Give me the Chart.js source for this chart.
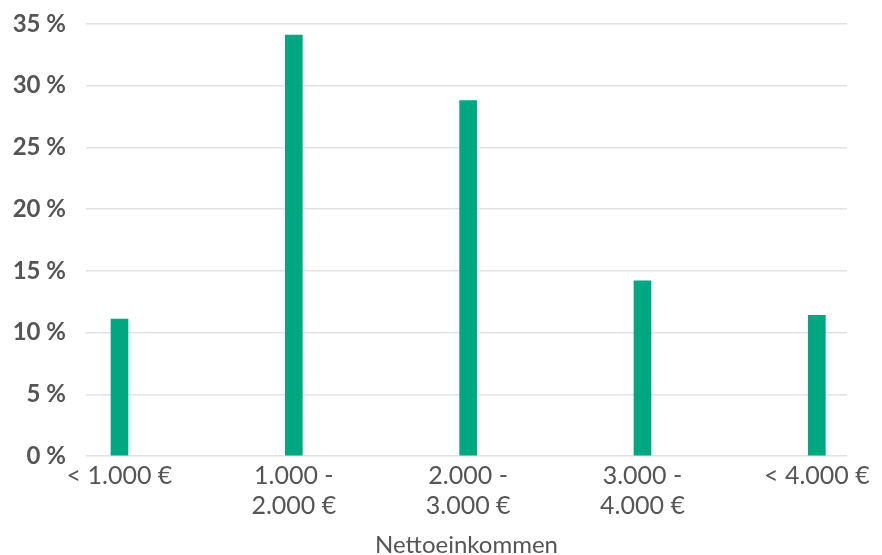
<!DOCTYPE html>
<html>
<head>
<meta charset="utf-8">
<script src="https://cdn.jsdelivr.net/npm/chart.js@4/dist/chart.umd.min.js"></script>
<style>
  html, body { margin: 0; padding: 0; background: #fff; }
  #wrap { width: 882px; height: 555px; }
</style>
</head>
<body>
<div id="wrap"><canvas id="income"></canvas></div>
<script>
// Anteil der Befragten je Einkommensgruppe
var incomeGroups = [['< 1.000 €'], ['1.000 -', '2.000 €'], ['2.000 -', '3.000 €'], ['3.000 -', '4.000 €'], ['< 4.000 €']];
var shares = [11.1, 34.1, 28.8, 14.2, 11.4];
var yTicks = [0, 5, 10, 15, 20, 25, 30, 35];

var textColor = '#555555';
var barColor = '#00a882';

window.onload = function () {
    var ctx = document.getElementById('income').getContext('2d');
    var points = shares.map(function (v, i) { return { x: i, y: v }; });

    new Chart(ctx, {
        type: 'bar',
        data: {
            datasets: [{
                data: points,
                backgroundColor: barColor,
                barThickness: 17,
                borderWidth: 0
            }]
        },
        options: {
            responsive: true,
            maintainAspectRatio: false,
            animation: false,
            layout: { padding: { top: 24, right: 35, left: 0, bottom: 0 } },
            plugins: { legend: { display: false }, tooltip: { enabled: false } },
            scales: {
                x: {
                    type: 'linear',
                    offset: false,
                    min: -0.192,
                    max: 4.173,
                    grid: { display: false },
                    border: { display: false },
                    afterBuildTicks: function (axis) {
                        axis.ticks = incomeGroups.map(function (g, i) { return { value: i }; });
                    },
                    afterFit: function (axis) { axis.height = 99; },
                    ticks: {
                        autoSkip: false,
                        maxRotation: 0,
                        padding: -3,
                        color: textColor,
                        font: { family: 'Lato', size: 25, lineHeight: 1.2 },
                        callback: function (value) { return incomeGroups[value]; }
                    },
                    title: {
                        display: true,
                        text: 'Nettoeinkommen',
                        color: textColor,
                        padding: { top: 0, bottom: 0 },
                        font: { family: 'Lato', size: 24, lineHeight: 0.8 }
                    }
                },
                y: {
                    min: 0,
                    max: 35,
                    afterBuildTicks: function (axis) {
                        axis.ticks = yTicks.map(function (v) { return { value: v }; });
                    },
                    afterFit: function (axis) {
                        axis.width = 86;
                        axis.paddingTop = 0;
                        axis.paddingBottom = 0;
                    },
                    grid: { color: '#e2e2e2', lineWidth: 1.5, drawTicks: false },
                    border: { display: false },
                    ticks: {
                        padding: 20,
                        color: textColor,
                        font: { family: 'Lato', size: 24, weight: 'bold' },
                        callback: function (value) { return value + ' %'; }
                    }
                }
            }
        }
    });
};
</script>
</body>
</html>
